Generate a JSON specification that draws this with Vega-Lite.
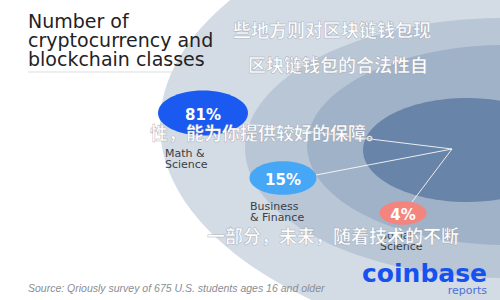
{
  "$schema": "https://vega.github.io/schema/vega-lite/v6.json",
  "width": 500,
  "height": 300,
  "padding": 0,
  "autosize": {"type": "none"},
  "background": "white",
  "config": {"view": {"stroke": null}},
  "resolve": {"scale": {"color": "independent", "size": "independent"}},
  "datasets": {
    "rings": [
      {"id": "r1", "x": 640, "y": 125, "w": 960},
      {"id": "r2", "x": 505, "y": 148, "w": 520},
      {"id": "r3", "x": 507, "y": 145, "w": 400},
      {"id": "r4", "x": 467, "y": 150, "w": 208}
    ],
    "links": [
      {"x": 248, "y": 124, "x2": 452, "y2": 149},
      {"x": 316, "y": 175, "x2": 452, "y2": 149},
      {"x": 412, "y": 202, "x2": 452, "y2": 149}
    ],
    "bubbles": [
      {"pct": "81%", "x": 203, "y": 113, "w": 90},
      {"pct": "15%", "x": 283, "y": 178, "w": 67},
      {"pct": "4%", "x": 403, "y": 213, "w": 47}
    ],
    "labels": [
      {"t": "Math &", "x": 165, "y": 157},
      {"t": "Science", "x": 165, "y": 168},
      {"t": "Business", "x": 250, "y": 210},
      {"t": "& Finance", "x": 250, "y": 221},
      {"t": "Social", "x": 380, "y": 239},
      {"t": "Science", "x": 380, "y": 250}
    ],
    "title": [
      {"t": "Number of", "x": 28, "y": 28},
      {"t": "cryptocurrency and", "x": 28, "y": 47},
      {"t": "blockchain classes", "x": 28, "y": 66}
    ],
    "underline": [{"x": 28, "x2": 262, "y": 72}],
    "cn": [
      {"t": "些地方则对区块链钱包现", "x": 233, "y": 32},
      {"t": "区块链钱包的合法性自", "x": 248, "y": 67},
      {"t": "性，能为你提供较好的保障。", "x": 150, "y": 135},
      {"t": "一部分，未来，随着技术的不断", "x": 207, "y": 238}
    ]
  },
  "encoding": {
    "x": {"field": "x", "type": "quantitative", "axis": null, "scale": {"domain": [0, 500], "nice": false, "zero": false}},
    "y": {"field": "y", "type": "quantitative", "axis": null, "scale": {"domain": [0, 300], "nice": false, "zero": false, "reverse": true}}
  },
  "layer": [
    {
      "data": {"name": "rings"},
      "mark": {"type": "point", "filled": true, "opacity": 1, "strokeWidth": 0, "clip": true,
        "shape": "M1,0C1,0.276,0.552,0.5,0,0.5C-0.552,0.5,-1,0.276,-1,0C-1,-0.276,-0.552,-0.5,0,-0.5C0.552,-0.5,1,-0.276,1,0Z"},
      "encoding": {
        "size": {"field": "w", "type": "quantitative", "legend": null, "scale": {"type": "pow", "exponent": 2, "domain": [0, 1000], "range": [0, 1000000]}},
        "color": {"field": "id", "type": "nominal", "legend": null, "scale": {"domain": ["r1", "r2", "r3", "r4"], "range": ["#d3dbe5", "#b9c6d6", "#a0b2c8", "#6884a8"]}},
        "order": {"field": "id"}
      }
    },
    {
      "data": {"name": "links"},
      "mark": {"type": "rule", "color": "white", "strokeWidth": 1, "opacity": 0.85},
      "encoding": {
        "x2": {"field": "x2"},
        "y2": {"field": "y2"}
      }
    },
    {
      "data": {"name": "bubbles"},
      "mark": {"type": "point", "filled": true, "opacity": 1, "strokeWidth": 0,
        "shape": "M1,0C1,0.276,0.552,0.5,0,0.5C-0.552,0.5,-1,0.276,-1,0C-1,-0.276,-0.552,-0.5,0,-0.5C0.552,-0.5,1,-0.276,1,0Z"},
      "encoding": {
        "size": {"field": "w", "type": "quantitative", "legend": null, "scale": {"type": "pow", "exponent": 2, "domain": [0, 1000], "range": [0, 1000000]}},
        "color": {"field": "pct", "type": "nominal", "legend": null, "scale": {"domain": ["81%", "15%", "4%"], "range": ["#1b5af0", "#46a7f6", "#f4847e"]}}
      }
    },
    {
      "data": {"name": "bubbles"},
      "mark": {"type": "text", "font": "DejaVu Sans", "fontWeight": "bold", "fontSize": 15, "color": "white", "align": "center", "baseline": "middle", "dy": 2},
      "encoding": {"text": {"field": "pct"}}
    },
    {
      "data": {"name": "labels"},
      "mark": {"type": "text", "font": "DejaVu Sans", "fontSize": 11, "color": "#3a3f47", "align": "left", "baseline": "alphabetic"},
      "encoding": {"text": {"field": "t"}}
    },
    {
      "data": {"name": "title"},
      "mark": {"type": "text", "font": "DejaVu Sans", "fontSize": 19, "color": "#1f2226", "align": "left", "baseline": "alphabetic"},
      "encoding": {"text": {"field": "t"}}
    },
    {
      "data": {"name": "underline"},
      "mark": {"type": "rule", "color": "#d9dde2", "strokeWidth": 1},
      "encoding": {"x2": {"field": "x2"}}
    },
    {
      "data": {"values": [{"t": "Source: Qriously survey of 675 U.S. students ages 16 and older", "x": 28, "y": 292}]},
      "mark": {"type": "text", "font": "Liberation Sans", "fontStyle": "italic", "fontSize": 10.5, "color": "#8a8d92", "align": "left", "baseline": "alphabetic"},
      "encoding": {"text": {"field": "t"}}
    },
    {
      "data": {"values": [{"t": "coinbase", "x": 487, "y": 282}]},
      "mark": {"type": "text", "font": "DejaVu Sans", "fontWeight": "bold", "fontSize": 25, "color": "#1652f0", "align": "right", "baseline": "alphabetic"},
      "encoding": {"text": {"field": "t"}}
    },
    {
      "data": {"values": [{"t": "reports", "x": 487, "y": 294}]},
      "mark": {"type": "text", "font": "DejaVu Sans", "fontSize": 11, "color": "#4d70d6", "align": "right", "baseline": "alphabetic"},
      "encoding": {"text": {"field": "t"}}
    },
    {
      "data": {"name": "cn"},
      "mark": {"type": "text", "font": "Noto Sans CJK SC", "fontWeight": "bold", "fontSize": 18, "color": "white", "stroke": "#7a8492", "strokeWidth": 0.5, "strokeOpacity": 0.6, "align": "left", "baseline": "middle"},
      "encoding": {"text": {"field": "t"}}
    }
  ]
}
